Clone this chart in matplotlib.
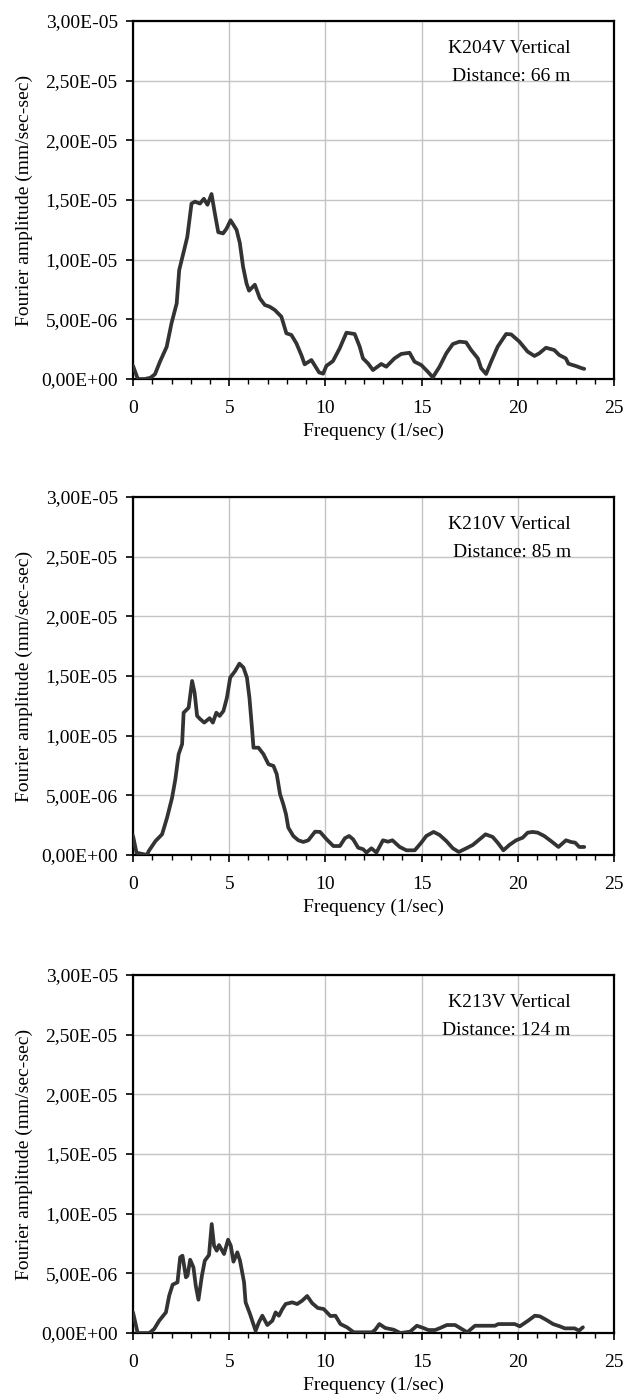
import matplotlib
matplotlib.use("Agg")
import matplotlib.pyplot as plt
from matplotlib.ticker import FuncFormatter, MultipleLocator

plt.rcParams['font.family'] = ['Liberation Serif', 'DejaVu Serif']

# K204V, distance 66 m
freq_k204 = [0, 0.25, 0.6, 0.9, 1.14, 1.4, 1.75, 2.0, 2.27, 2.4,
             2.61, 2.82, 3.04, 3.22, 3.48, 3.68, 3.87, 4.08, 4.25, 4.43,
             4.68, 4.86, 5.07, 5.38, 5.55, 5.72, 5.9, 6.03, 6.33, 6.59,
             6.85, 7.1, 7.37, 7.71, 7.97, 8.23, 8.49, 8.75, 8.92, 9.27,
             9.67, 9.88, 10.05, 10.39, 10.74, 11.09, 11.52, 11.78, 11.95, 12.21,
             12.47, 12.9, 13.16, 13.59, 13.94, 14.37, 14.63, 14.98, 15.32, 15.58,
             15.93, 16.28, 16.62, 16.97, 17.31, 17.57, 17.92, 18.09, 18.35, 18.61,
             18.95, 19.39, 19.65, 20.08, 20.51, 20.86, 21.11, 21.46, 21.89, 22.15,
             22.49, 22.63, 23.01, 23.33, 23.45]
amp_k204 = [1.1, 0.0, 0.0, 0.1, 0.4, 1.45, 2.7, 4.67, 6.34, 9.13,
            10.5, 11.9, 14.7, 14.86, 14.7, 15.1, 14.6, 15.5, 13.9, 12.3,
            12.2, 12.6, 13.3, 12.5, 11.4, 9.4, 8.0, 7.4, 7.9, 6.76,
            6.2, 6.06, 5.78, 5.22, 3.83, 3.69, 2.99, 2.0, 1.23, 1.59,
            0.55, 0.45, 1.1, 1.5, 2.57, 3.88, 3.77, 2.71, 1.73, 1.31,
            0.75, 1.26, 1.03, 1.73, 2.1, 2.2, 1.45, 1.17, 0.61, 0.14,
            1.03, 2.15, 2.93, 3.13, 3.07, 2.43, 1.73, 0.9, 0.42, 1.45,
            2.71, 3.77, 3.74, 3.13, 2.29, 1.93, 2.15, 2.62, 2.43, 2.01,
            1.73, 1.28, 1.09, 0.9, 0.85]

# K210V, distance 85 m
freq_k210 = [0, 0.18, 0.73, 0.82, 1.17, 1.51, 1.77, 2.03, 2.2, 2.37,
             2.55, 2.63, 2.89, 3.07, 3.2, 3.33, 3.5, 3.7, 3.98, 4.15,
             4.33, 4.5, 4.7, 4.88, 5.05, 5.31, 5.53, 5.74, 5.92, 6.05,
             6.18, 6.26, 6.52, 6.78, 7.04, 7.3, 7.47, 7.64, 7.81, 7.95,
             8.07, 8.33, 8.59, 8.85, 9.11, 9.46, 9.72, 10.06, 10.41, 10.75,
             11.01, 11.23, 11.44, 11.7, 11.96, 12.13, 12.39, 12.65, 12.99, 13.25,
             13.48, 13.86, 14.21, 14.64, 14.98, 15.24, 15.62, 15.93, 16.28, 16.62,
             16.93, 17.32, 17.66, 18.01, 18.32, 18.69, 18.95, 19.25, 19.56, 19.91,
             20.25, 20.51, 20.77, 21.03, 21.37, 21.72, 22.11, 22.5, 22.76, 22.98,
             23.19, 23.45]
amp_k210 = [1.6, 0.19, 0.0, 0.34, 1.17, 1.73, 3.13, 4.8, 6.34, 8.44,
            9.28, 11.92, 12.34, 14.58, 13.6, 11.65, 11.37, 11.09, 11.46, 11.09,
            11.92, 11.65, 12.07, 13.18, 14.86, 15.42, 16.03, 15.7, 14.86, 13.18,
            10.67, 8.99, 8.99, 8.44, 7.6, 7.46, 6.76, 5.09, 4.25, 3.41,
            2.29, 1.59, 1.23, 1.09, 1.23, 1.95, 1.93, 1.31, 0.75, 0.75,
            1.4, 1.59, 1.31, 0.61, 0.48, 0.2, 0.56, 0.2, 1.23, 1.11,
            1.23, 0.67, 0.39, 0.39, 1.03, 1.59, 1.93, 1.68, 1.17, 0.56,
            0.25, 0.56, 0.84, 1.31, 1.73, 1.51, 1.03, 0.39, 0.84, 1.23,
            1.45, 1.87, 1.93, 1.87, 1.59, 1.17, 0.67, 1.23, 1.09, 1.03,
            0.67, 0.67]

# K213V, distance 124 m
freq_k213 = [0, 0.24, 0.85, 1.1, 1.36, 1.71, 1.88, 2.06, 2.31, 2.45,
             2.57, 2.75, 2.83, 2.97, 3.14, 3.26, 3.4, 3.58, 3.73, 3.95,
             4.09, 4.21, 4.35, 4.47, 4.73, 4.94, 5.08, 5.22, 5.42, 5.56,
             5.77, 5.85, 6.08, 6.37, 6.54, 6.72, 6.98, 7.24, 7.41, 7.58,
             7.76, 7.93, 8.27, 8.53, 8.79, 9.05, 9.31, 9.6, 9.91, 10.26,
             10.52, 10.78, 11.12, 11.47, 12.42, 12.59, 12.8, 13.11, 13.54, 13.89,
             14.4, 14.75, 15.09, 15.35, 15.7, 15.96, 16.31, 16.74, 17.08, 17.37,
             17.77, 18.38, 18.81, 18.98, 19.5, 19.84, 20.1, 20.53, 20.88, 21.14,
             21.49, 21.83, 22.18, 22.44, 22.95, 23.18, 23.38]
amp_k213 = [1.73, 0.0, 0.0, 0.34, 1.03, 1.73, 3.13, 4.05, 4.25, 6.34,
            6.48, 4.67, 4.8, 6.14, 5.5, 3.97, 2.79, 4.8, 6.06, 6.54,
            9.13, 7.32, 6.9, 7.37, 6.62, 7.82, 7.32, 5.98, 6.76, 6.06,
            4.25, 2.57, 1.59, 0.19, 0.9, 1.45, 0.67, 1.03, 1.73, 1.45,
            2.01, 2.43, 2.57, 2.43, 2.71, 3.1, 2.5, 2.1, 2.01, 1.42,
            1.45, 0.75, 0.48, 0.06, 0.06, 0.28, 0.75, 0.42, 0.28, 0.0,
            0.11, 0.61, 0.42, 0.25, 0.25, 0.42, 0.67, 0.67, 0.34, 0.06,
            0.61, 0.61, 0.61, 0.75, 0.75, 0.75, 0.56, 1.03, 1.45, 1.4,
            1.09, 0.75, 0.56, 0.39, 0.39, 0.2, 0.48]

stations = ["K204V Vertical", "K210V Vertical", "K213V Vertical"]
distances = ["Distance: 66 m", "Distance: 85 m", "Distance: 124 m"]
panels = [(freq_k204, amp_k204), (freq_k210, amp_k210), (freq_k213, amp_k213)]

fig = plt.figure(figsize=(6.38, 13.97), dpi=100)
bottoms = [0.7287, 0.3880, 0.0458]
FS = 14

sci_fmt = FuncFormatter(lambda v, p: ("%.2E" % v).replace('.', ','))

for (freq, amp), bottom, name, dist in zip(panels, bottoms, stations, distances):
    ax = fig.add_axes([0.2085, bottom, 0.754, 0.2563])
    ax.plot(freq, [a * 1e-6 for a in amp], color='#333333', lw=2.7,
            solid_joinstyle='round', solid_capstyle='round', zorder=3)
    ax.set_xlim(0, 25)
    ax.set_ylim(0, 3e-5)
    ax.xaxis.set_major_locator(MultipleLocator(5))
    ax.xaxis.set_minor_locator(MultipleLocator(1))
    ax.yaxis.set_major_locator(MultipleLocator(5e-6))
    ax.yaxis.set_major_formatter(sci_fmt)
    ax.grid(True, which='major', color='#c4c4c4', lw=1.0, zorder=0)
    for s in ax.spines.values():
        s.set_linewidth(1.6)
        s.set_color('black')
    ax.tick_params(axis='both', which='major', direction='out', length=5,
                   width=1.2, labelsize=FS)
    ax.tick_params(axis='x', which='major', pad=10)
    ax.tick_params(axis='y', which='major', pad=6)
    ax.tick_params(axis='x', which='minor', direction='out', length=3.5, width=1.0)
    ax.set_xlabel("Frequency (1/sec)", fontsize=FS, labelpad=4)
    ax.set_ylabel("Fourier amplitude (mm/sec-sec)", fontsize=FS, labelpad=6)
    ax.text(0.91, 0.922, name, transform=ax.transAxes, ha='right', va='center',
            fontsize=FS)
    ax.text(0.91, 0.844, dist, transform=ax.transAxes, ha='right', va='center',
            fontsize=FS)

fig.savefig("out.png", dpi=100)
